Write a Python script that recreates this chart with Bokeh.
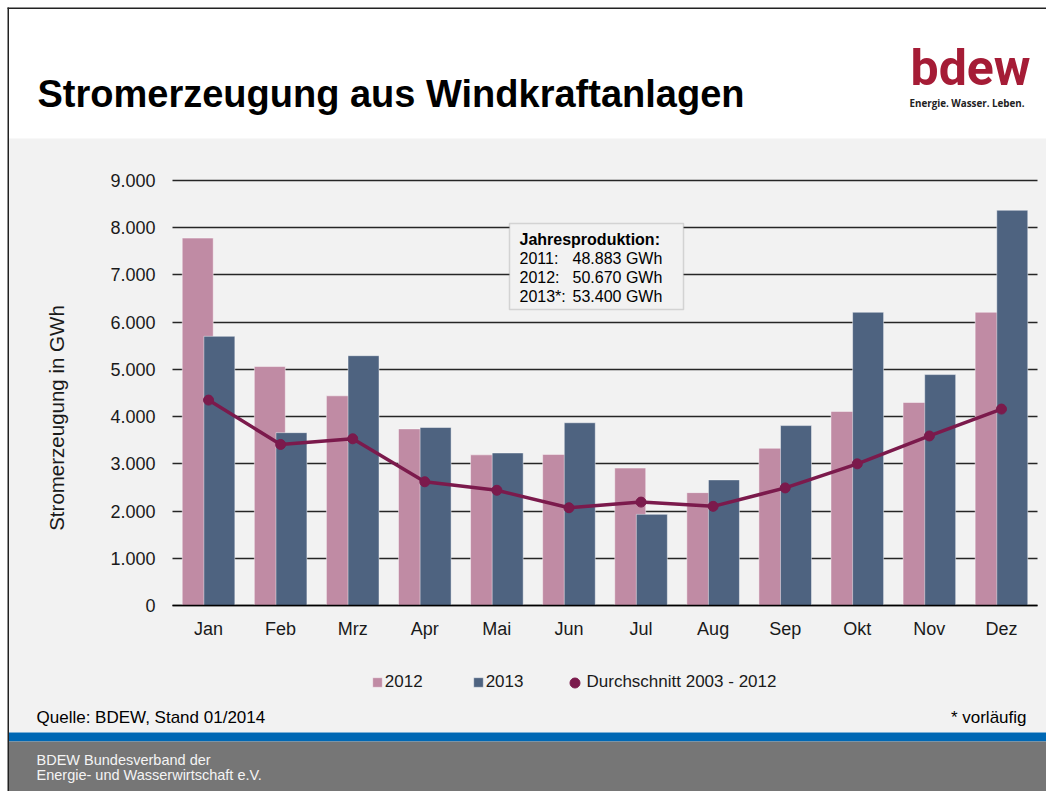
import math
from bokeh.plotting import figure
from bokeh.models import (Range1d, FixedTicker, Label, Legend, LegendItem,
                          BoxAnnotation, ColumnDataSource, Grid)
from bokeh.transform import dodge
from bokeh.embed import file_html
from bokeh.resources import INLINE

# ---------------- data ----------------
months = ["Jan", "Feb", "Mrz", "Apr", "Mai", "Jun", "Jul", "Aug", "Sep", "Okt", "Nov", "Dez"]
v2012 = [7780, 5060, 4440, 3740, 3190, 3200, 2910, 2390, 3330, 4110, 4300, 6210]
v2013 = [5700, 3660, 5290, 3770, 3230, 3870, 1930, 2660, 3810, 6210, 4890, 8370]
avg_2003_2012 = [4350, 3410, 3530, 2620, 2440, 2070, 2190, 2100, 2490, 3000, 3590, 4160]
y_ticks = [0, 1000, 2000, 3000, 4000, 5000, 6000, 7000, 8000, 9000]
y_tick_labels = ["0", "1.000", "2.000", "3.000", "4.000", "5.000", "6.000", "7.000", "8.000", "9.000"]
box_title = "Jahresproduktion:"
box_years = ["2011:", "2012:", "2013*:"]
box_values = ["48.883 GWh", "50.670 GWh", "53.400 GWh"]
series_names = ["2012", "2013", "Durchschnitt 2003 - 2012"]

FONT = "Liberation Sans"
BG = "#f2f2f2"
C2012 = "#c08ba4"
C2013 = "#4e6380"
CAVG = "#7b1a4c"

# ---------------- layout (pixels) ----------------
W, H = 1046, 791
PX_L, PX_R = 172, 1037      # chart area left/right
PX_ZERO, PX_TOP = 605, 180  # pixel rows of 0 and 9000
n = len(months)
ux = (PX_R - PX_L) / n
uy = (PX_ZERO - PX_TOP) / 9000.0
x_start, x_end = -PX_L / ux, n + (W - PX_R) / ux
y_start, y_end = -(H - PX_ZERO) / uy, 9000 + PX_TOP / uy


def sy(img_y):
    """image row -> screen y (measured up from frame bottom)"""
    return H - img_y


pos = [i + 0.5 for i in range(n)]
src = ColumnDataSource(dict(pos=pos, month=months, v2012=v2012, v2013=v2013, avg=avg_2003_2012))

p = figure(frame_width=W, frame_height=H, x_range=Range1d(x_start, x_end), y_range=Range1d(y_start, y_end),
           toolbar_location=None, output_backend="svg", min_border=0,
           background_fill_color="white", border_fill_color=BG, outline_line_color=None)


def box(l, r, t, b, color, level="image", line_color=None, line_width=1):
    p.add_layout(BoxAnnotation(left=l, right=r, top=sy(t), bottom=sy(b),
                               left_units="screen", right_units="screen",
                               top_units="screen", bottom_units="screen",
                               fill_color=color, fill_alpha=1, line_color=line_color,
                               line_width=line_width, level=level))


def label(x, base_y, text, size_px, color="#000000", bold=False, font=FONT, align="left", angle=0):
    # base_y is the wanted baseline row; texts are placed by their middle
    mid = base_y - 0.35 * size_px if angle == 0 else base_y
    p.add_layout(Label(x=x, y=sy(mid), x_units="screen", y_units="screen", text=text,
                       text_font=font, text_font_size=f"{size_px}px", text_color=color,
                       text_font_style="bold" if bold else "normal",
                       text_align=align, text_baseline="middle", angle=angle))


# slide background pieces
box(8.5, W + 20, 138, 732, BG)                 # grey chart panel
box(8.5, W + 20, 732, 741, "#0068b4")          # blue stripe
box(8.5, W + 20, 741, H + 20, "#767676")       # grey footer
box(7, 8.5, 7, H + 20, "#222222")              # left border
box(7, W + 20, 7, 8.5, "#222222")              # top border

# header
label(37, 107, "Stromerzeugung aus Windkraftanlagen", 38, bold=True)
label(910, 85, "bdew", 50, color="#a51c36", bold=True, font="Roboto")
label(909, 106, "Energie. Wasser. Leben.", 9.8, color="#222222", bold=True, font="Open Sans")

# bars + line
r12 = p.vbar(x=dodge("pos", -0.15), top="v2012", width=0.43, source=src,
             fill_color=C2012, line_color="white", line_alpha=0.45, line_width=1)
r13 = p.vbar(x=dodge("pos", 0.15), top="v2013", width=0.43, source=src,
             fill_color=C2013, line_color="white", line_alpha=0.45, line_width=1)
p.line(x="pos", y="avg", source=src, line_color=CAVG, line_width=3.5)
ravg = p.scatter(x="pos", y="avg", source=src, size=10, fill_color=CAVG, line_color=CAVG)

# grid
p.xgrid.visible = False
p.ygrid.ticker = FixedTicker(ticks=y_ticks)
p.ygrid.grid_line_color = "#262626"
p.ygrid.grid_line_width = 1.5
if "cross_bounds" in Grid.properties():
    p.ygrid.cross_bounds = (0, n)
else:
    p.ygrid.visible = False
    p.segment(x0=[0] * len(y_ticks), x1=[n] * len(y_ticks), y0=y_ticks, y1=y_ticks,
              line_color="#262626", line_width=1.5, level="underlay")

# axes (placed inside the frame at fixed data locations)
p.yaxis.fixed_location = 0
p.yaxis.bounds = (0, 9000)
p.yaxis.ticker = FixedTicker(ticks=y_ticks)
p.yaxis.major_label_overrides = dict(zip(y_ticks, y_tick_labels))
p.yaxis.axis_line_color = None
p.yaxis.major_tick_line_color = None
p.yaxis.minor_tick_line_color = None
p.yaxis.major_label_standoff = 11
p.yaxis.major_label_text_font = FONT
p.yaxis.major_label_text_font_size = "18px"
p.yaxis.major_label_text_color = "#1a1a1a"

p.xaxis.fixed_location = 0
p.xaxis.bounds = (0, n)
p.xaxis.ticker = FixedTicker(ticks=pos)
p.xaxis.major_label_overrides = dict(zip(pos, months))
p.xaxis.axis_line_color = "#000000"
p.xaxis.axis_line_width = 1.5
p.xaxis.major_tick_line_color = None
p.xaxis.minor_tick_line_color = None
p.xaxis.major_label_standoff = 7
p.xaxis.major_label_text_font = FONT
p.xaxis.major_label_text_font_size = "18px"
p.xaxis.major_label_text_color = "#1a1a1a"

# y axis title
label(56, 417.5, "Stromerzeugung in GWh", 20.5, color="#1a1a1a", align="center", angle=math.pi / 2)

# legends
leg_bars = Legend(items=[LegendItem(label=series_names[0], renderers=[r12]),
                         LegendItem(label=series_names[1], renderers=[r13])],
                  orientation="horizontal", location=(370.8, sy(692)),
                  glyph_width=12, glyph_height=12, label_standoff=2, spacing=49,
                  padding=0, margin=0, border_line_color=None, background_fill_alpha=0,
                  label_text_font=FONT, label_text_font_size="17px", label_text_color="#1a1a1a")
leg_avg = Legend(items=[LegendItem(label=series_names[2], renderers=[ravg])],
                 orientation="horizontal", location=(561.5, sy(694.5)),
                 glyph_width=25, glyph_height=25, label_standoff=0,
                 padding=0, margin=0, border_line_color=None, background_fill_alpha=0,
                 label_text_font=FONT, label_text_font_size="17px", label_text_color="#1a1a1a")
p.add_layout(leg_bars)
p.add_layout(leg_avg)

# info box
box(509, 683, 223, 309, BG, level="annotation", line_color="#8c8c8c", line_width=1.5)
label(519, 245, box_title, 16, bold=True)
for i, (yr, val) in enumerate(zip(box_years, box_values)):
    yy = 264 + i * 18.8
    label(519, yy, yr, 16)
    label(572, yy, val, 16)

# source notes
label(36, 722.7, "Quelle: BDEW, Stand 01/2014", 17)
label(1026, 722.7, "* vorläufig", 17, align="right")

# footer
label(36, 764.3, "BDEW Bundesverband der", 14.5, color="#f4f4f4")
label(36, 780, "Energie- und Wasserwirtschaft e.V.", 14.5, color="#f4f4f4")

open("out.html", "w").write(file_html(p, INLINE))
